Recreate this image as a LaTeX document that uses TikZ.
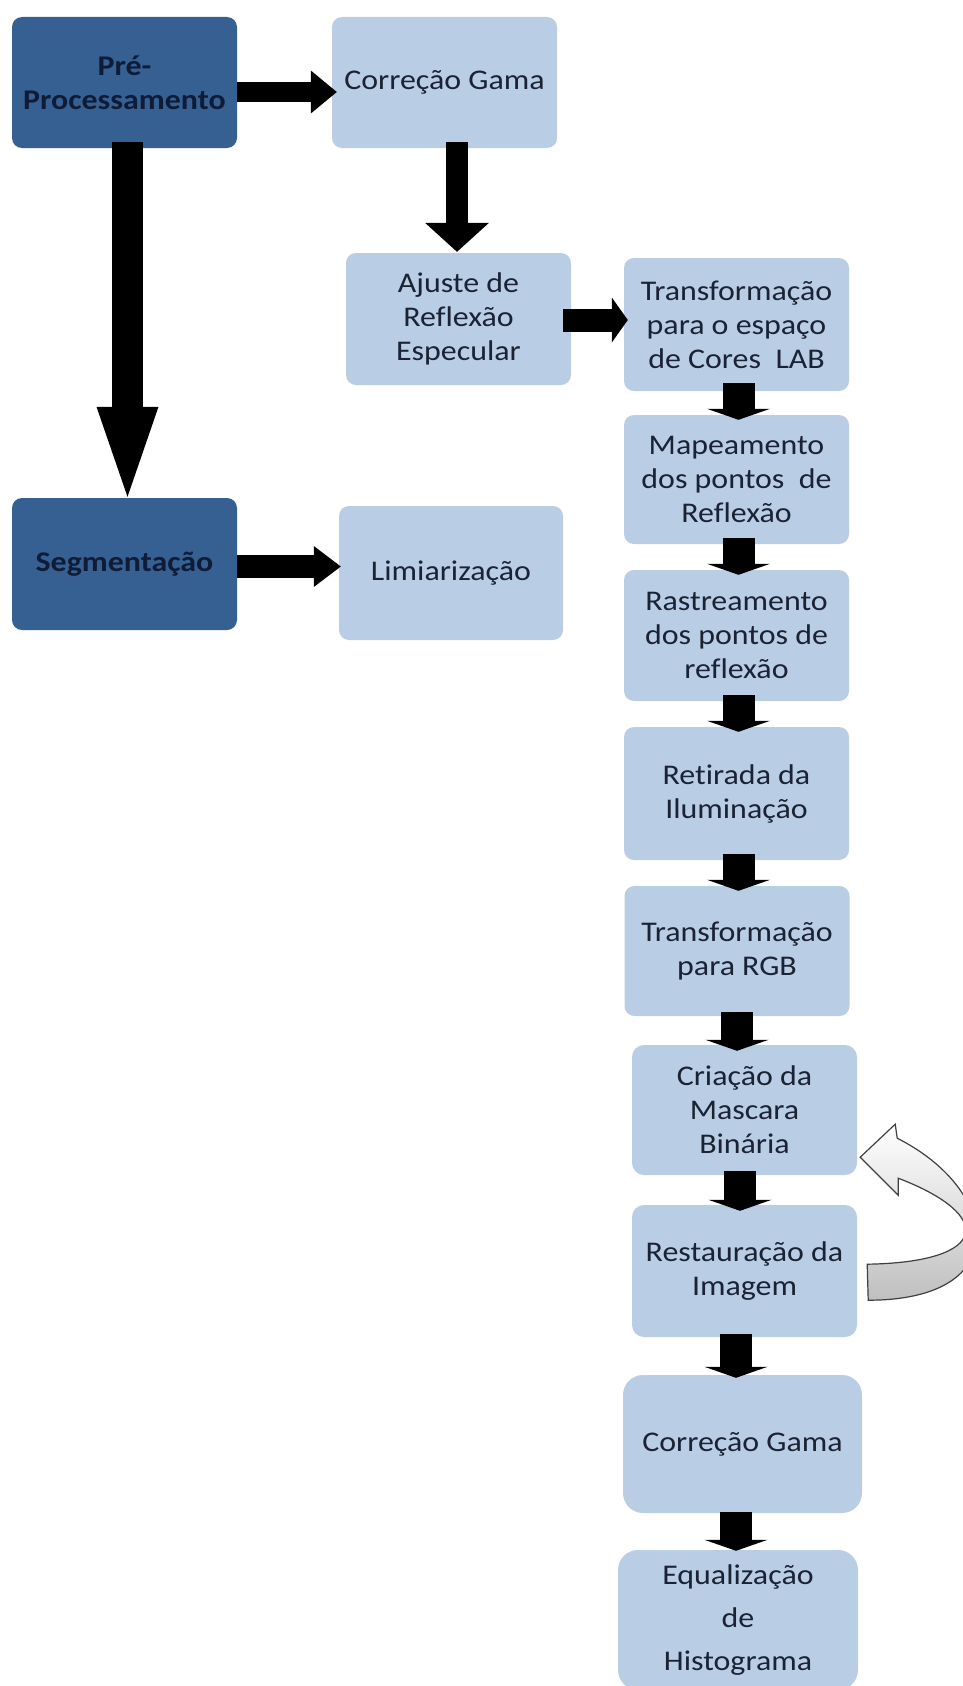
\documentclass[tikz,border=0pt]{standalone}
\usepackage{fontspec}
\setmainfont{Carlito}[FakeStretch=1.12, Ligatures=NoCommon]
\usetikzlibrary{arrows.meta,calc}

\definecolor{darkbox}{HTML}{376092}
\definecolor{lightbox}{HTML}{B9CDE5}
\definecolor{darktext}{HTML}{0F1C38}
\definecolor{lighttext}{HTML}{1A2233}
\definecolor{loopedge}{HTML}{404040}

\tikzset{
  stage/.style={rectangle, rounded corners=10pt, fill=lightbox, text=lighttext,
    align=center, inner sep=0pt, font=\fontsize{28.5}{34}\selectfont},
  mainstage/.style={stage, fill=darkbox, text=darktext,
    font=\fontsize{28.5}{34}\selectfont\bfseries},
  boxsize/.style 2 args={minimum width=#1, minimum height=#2},
  blockarrow/.style n args={3}{draw=black, line width=#1,
    -{Triangle[width=#2,length=#3,line width=0pt]}},
  colarrow/.style={blockarrow={32pt}{63pt}{11pt}},
  looparrow/.style={draw=loopedge, line width=1.2pt, line join=miter,
    top color=white, bottom color=black!25},
}

\begin{document}
\begin{tikzpicture}[x=1pt, y=-1pt]
  \useasboundingbox (0,0) rectangle (963,1686);
  \clip (0,0) rectangle (963,1686);
  \fill[white] (0,0) rectangle (963,1686);

  % main stages
  \node[mainstage, boxsize={225pt}{131pt}] (pre) at (124.5,82.5) {Pré-\\Processamento};
  \node[mainstage, boxsize={225pt}{132pt}] (seg) at (124.5,564) {Segmentação};

  % pre-processing branch
  \node[stage, boxsize={225pt}{131pt}] (gama1) at (444.5,82.5) {Correção Gama};
  \node[stage, boxsize={225pt}{132pt}] (ajuste) at (458.5,319) {Ajuste de\\Reflexão\\Especular};

  % segmentation branch
  \node[stage, boxsize={224pt}{134pt}] (lim) at (451,573) {Limiarização};

  % right column
  \node[stage, boxsize={225pt}{133pt}] (lab) at (736.5,324.5) {Transformação\\para o espaço\\de Cores\ \ LAB};
  \node[stage, boxsize={225pt}{129pt}] (map) at (736.5,479.5) {Mapeamento\\dos pontos\ \ de\\Reflexão};
  \node[stage, boxsize={225pt}{131pt}] (rast) at (736.5,635.5) {Rastreamento\\dos pontos de\\reflexão};
  \node[stage, boxsize={225pt}{133pt}] (ret) at (736.5,793.5) {Retirada da\\Iluminação};
  \node[stage, boxsize={225pt}{130pt}] (rgb) at (737,951) {Transformação\\para RGB};
  \node[stage, boxsize={225pt}{130pt}, rounded corners=12pt] (criacao) at (744.5,1110) {Criação da\\Mascara\\Binária};
  \node[stage, boxsize={225pt}{132pt}, rounded corners=12pt] (rest) at (744.5,1271) {Restauração da\\Imagem};
  \node[stage, boxsize={239pt}{138pt}, rounded corners=20pt] (gama2) at (742.5,1444) {Correção Gama};
  \node[stage, boxsize={240pt}{140pt}, rounded corners=20pt,
        font=\fontsize{28.5}{43}\selectfont] (equal) at (738,1620) {Equalização\\de\\Histograma};

  % large connectors
  \draw[blockarrow={20pt}{43pt}{26pt}] ($(pre.east)+(0,9.5)$) -- ($(gama1.west)+(5,9.5)$);
  \draw[blockarrow={22pt}{64pt}{29pt}] ($(gama1.south)+(12.5,-6)$) -- ($(ajuste.north)+(-1.5,-1)$);
  \draw[blockarrow={31pt}{62pt}{90pt}] ($(pre.south)+(3,-6)$) -- ($(seg.north)+(3,-1)$);
  \draw[blockarrow={23pt}{45pt}{16pt}] ($(ajuste.east)+(-8,1)$) -- ($(lab.west)+(4,-4.5)$);
  \draw[blockarrow={23pt}{41pt}{27pt}] ($(seg.east)+(0,2.5)$) -- ($(lim.west)+(2,-6.5)$);

  % column connectors
  \draw[colarrow] ($(lab.south)+(2,-8)$) -- ($(map.north)+(2,5)$);
  \draw[colarrow] ($(map.south)+(2,-6)$) -- ($(rast.north)+(2,5)$);
  \draw[colarrow] ($(rast.south)+(2,-6)$) -- ($(ret.north)+(2,5)$);
  \draw[colarrow] ($(ret.south)+(2,-6)$) -- ($(rgb.north)+(1.5,5)$);
  \draw[colarrow] ($(rgb.south)+(0,-4)$) -- ($(criacao.north)+(-7.5,6)$);
  \draw[colarrow] ($(criacao.south)+(-4.5,-4)$) -- ($(rest.north)+(-4.5,6)$);
  \draw[colarrow] ($(rest.south)+(-8.5,-3)$) -- ($(gama2.north)+(-6.5,3)$);
  \draw[colarrow] ($(gama2.south)+(-6.5,-1)$) -- ($(equal.north)+(-2,1)$);

  % curved feedback arrow from restoration back to the binary mask
  \begin{scope}[shift={(criacao.south east)}]
    \draw[looparrow] (3,-18) -- (38,-51) -- (40,-37)
      .. controls (143,15) and (158,125) .. (11,125)
      -- (10,89)
      .. controls (133,87) and (138,40) .. (41,3)
      -- (41,20) -- cycle;
  \end{scope}
\end{tikzpicture}
\end{document}
